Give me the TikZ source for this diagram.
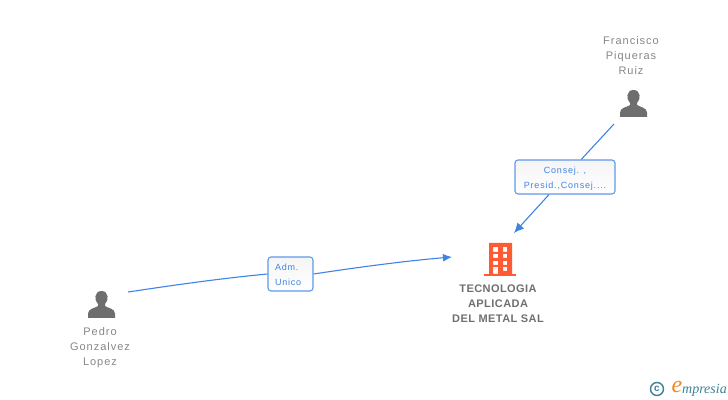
\documentclass[tikz,border=0pt]{standalone}
\usepackage{fontspec}
\setmainfont{Liberation Sans}
\newfontfamily\spacedfont[LetterSpace=9]{Liberation Sans}
\newfontfamily\firmfont[LetterSpace=4]{Liberation Sans}
\newfontfamily\logofont{Liberation Serif}
\usetikzlibrary{arrows.meta}
\definecolor{linkblue}{HTML}{3F83E4}
\definecolor{framblue}{HTML}{5F9AE8}
\definecolor{persongrey}{HTML}{6E6E6E}
\definecolor{textgrey}{HTML}{868686}
\definecolor{firmgrey}{HTML}{6F6F6F}
\definecolor{firmred}{HTML}{FF5A33}
\definecolor{logoteal}{HTML}{3D8098}
\definecolor{logoorange}{HTML}{F08A1D}
\newcommand{\rolelines}[2]{\raisebox{6.6bp}{\parbox{#1}{#2}}}
\tikzset{
  personname/.style={text=textgrey,font=\fontsize{11bp}{15bp}\selectfont\spacedfont,align=center,inner sep=0pt},
  firmname/.style={text=firmgrey,font=\fontsize{11bp}{15bp}\selectfont\firmfont\bfseries,align=center,inner sep=0pt},
  rolebox/.style={draw=framblue,line width=1.1bp,rounded corners=3bp,top color=black!4,bottom color=white,
    text=linkblue,font=\fontsize{9bp}{15bp}\selectfont\spacedfont,inner sep=0pt,minimum height=34bp,text depth=0pt,align=left},
  link/.style={draw=linkblue,line width=1.1bp},
  personicon/.pic={
    \fill [persongrey] (0bp,13.5bp) .. controls (-7.5bp,13.5bp) and (-7.5bp,4bp) .. (-3.5bp,0.5bp)
      -- (-3.5bp,-1.5bp) .. controls (-6bp,-3.5bp) and (-13.5bp,-4bp) .. (-13.5bp,-9bp)
      -- (-13.5bp,-13.5bp) -- (13.5bp,-13.5bp) -- (13.5bp,-9bp)
      .. controls (13.5bp,-4bp) and (6bp,-3.5bp) .. (3.5bp,-1.5bp)
      -- (3.5bp,0.5bp) .. controls (7.5bp,4bp) and (7.5bp,13.5bp) .. (0bp,13.5bp) -- cycle;
  },
}
\begin{document}
\begin{tikzpicture}[>=latex,line join=bevel,x=1bp,y=1bp]
  \useasboundingbox (0bp,0bp) rectangle (728bp,400bp);
  % Free ends
  \coordinate (pedroout) at (128bp,108bp);
  \coordinate (firmwest) at (452bp,143bp);
  \coordinate (franciscoout) at (614bp,276bp);
  \coordinate (firmnorth) at (514bp,167bp);
  % Node: roles
  \node [rolebox,minimum width=45bp] (adm) at (290.5bp,126bp) {\rolelines{31bp}{Adm.\\Unico}};
  \node [rolebox,minimum width=100bp] (consej) at (565bp,223bp) {\rolelines{90bp}{\centering Consej. ,\\Presid.,Consej....}};
  % Edge: Pedro -> Tecnologia
  \draw [link] (pedroout) .. controls (175bp,115bp) and (220bp,121.5bp) .. (adm.west);
  \draw [link,-{Latex[length=9bp,width=8bp]}] (adm.east) .. controls (360bp,133bp) and (405bp,139bp) .. (firmwest);
  % Edge: Francisco -> Tecnologia
  \draw [link] (franciscoout) -- (consej);
  \draw [link,-{Latex[length=10bp,width=9bp]}] (consej) -- (firmnorth);
  % Node: Francisco
  \pic (franciscoicon) at (633.5bp,296.5bp) {personicon};
  \node [personname] (francisco) at (631bp,344bp) {Francisco\\Piqueras\\Ruiz};
  % Node: Pedro
  \pic (pedroicon) at (101.5bp,95.5bp) {personicon};
  \node [personname] (pedro) at (100bp,52bp) {Pedro\\Gonzalvez\\Lopez};
  % Node: Tecnologia
  \begin{scope}
    \fill [firmred,even odd rule] (489bp,157bp) rectangle (512bp,126bp)
      (493bp,153bp) rectangle (498bp,148bp) (503bp,153bp) rectangle (507bp,148bp)
      (493bp,146bp) rectangle (498bp,142bp) (503bp,146bp) rectangle (507bp,142bp)
      (493bp,139bp) rectangle (498bp,135bp) (503bp,139bp) rectangle (507bp,135bp)
      (493bp,133bp) rectangle (498bp,126bp) (503bp,133bp) rectangle (507bp,129bp);
    \fill [firmred] (484bp,126bp) rectangle (516bp,123.5bp);
  \end{scope}
  \node [firmname] (firm) at (498bp,96bp) {TECNOLOGIA\\APLICADA\\DEL METAL SAL};
  % Node: logo
  \draw [logoteal,line width=1.4bp] (657bp,11bp) circle (6.5bp);
  \node [text=logoteal,font=\fontsize{10bp}{10bp}\selectfont\bfseries,inner sep=0pt] (copyright) at (657bp,11.5bp) {c};
  \node [text=logoorange,font=\fontsize{24bp}{24bp}\selectfont\logofont\itshape,inner sep=0pt] (logoe) at (677bp,13bp) {e};
  \node [text=logoteal,font=\fontsize{14bp}{14bp}\selectfont\logofont\itshape,inner sep=0pt,anchor=base west] (logotext) at (682bp,7bp) {mpresia};
\end{tikzpicture}
\end{document}
